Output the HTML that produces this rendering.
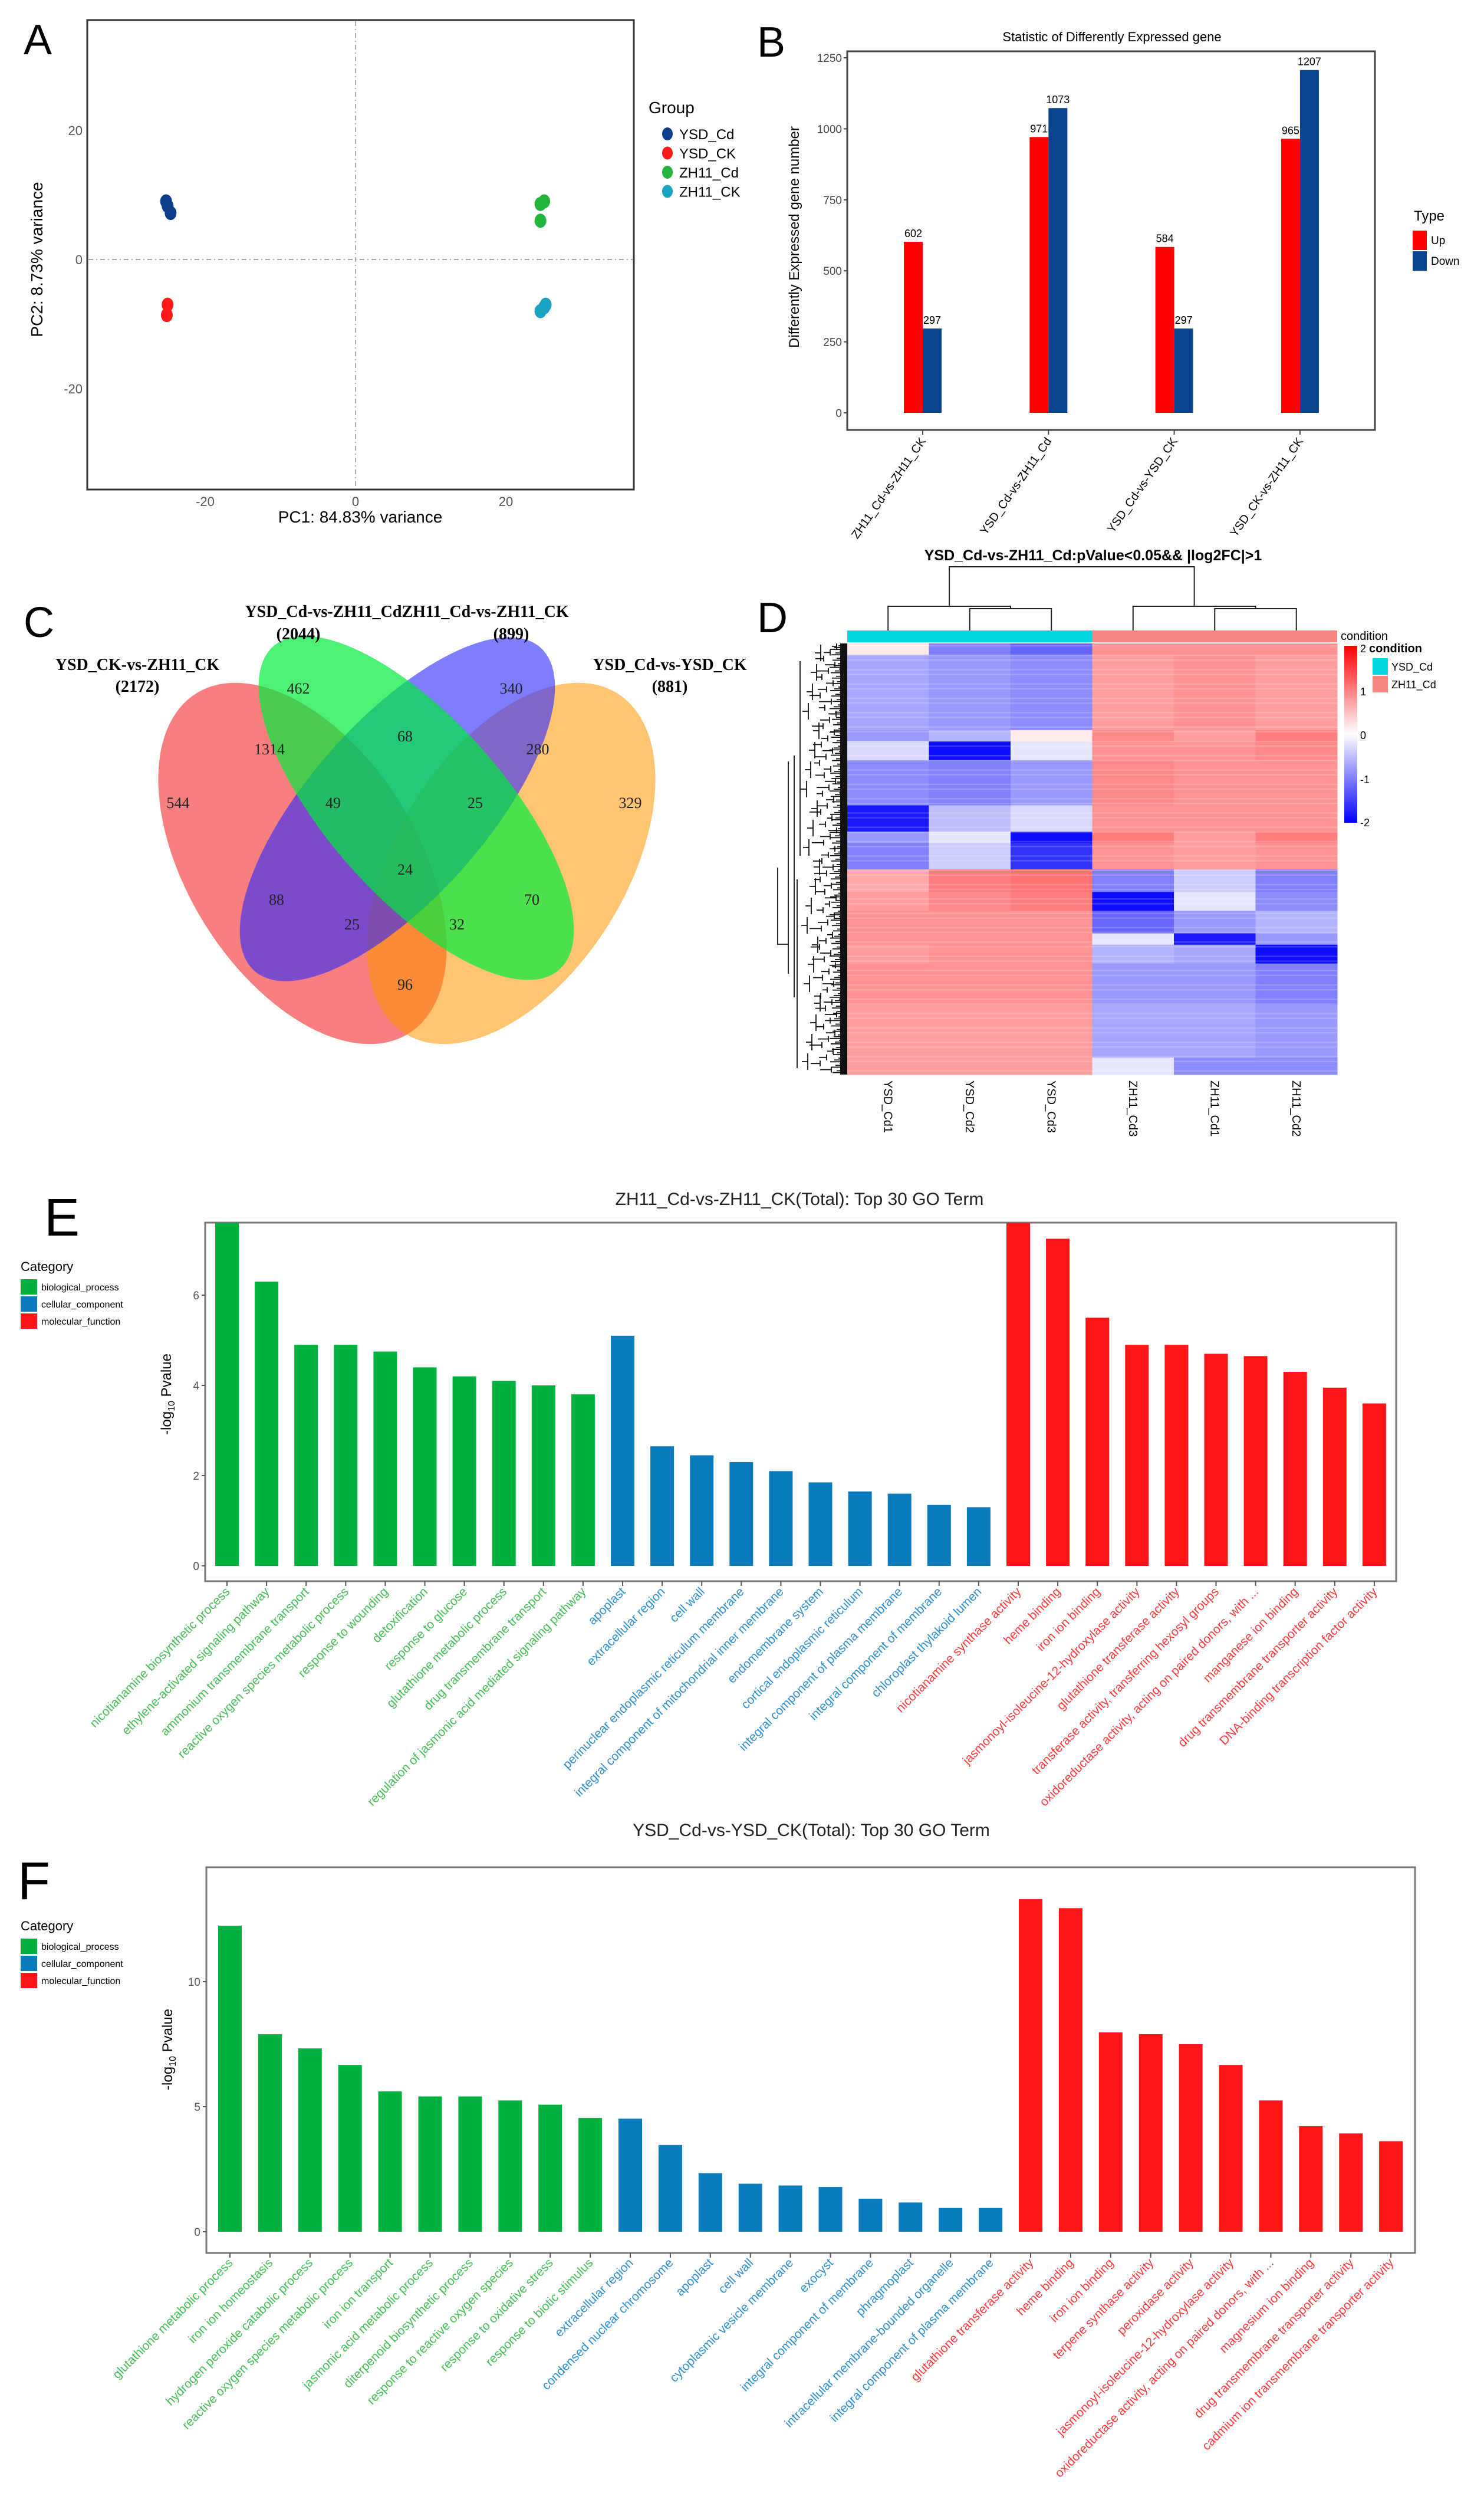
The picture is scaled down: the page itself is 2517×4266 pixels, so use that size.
<!DOCTYPE html>
<html><head><meta charset="utf-8"><style>
html,body{margin:0;padding:0;background:#fff;}
svg{display:block;font-family:"Liberation Sans",sans-serif;}
</style></head><body>
<svg id="fig" width="2517" height="4266" viewBox="0 0 2517 4266" xmlns="http://www.w3.org/2000/svg">
<rect width="2517" height="4266" fill="#fff"/>
<g id="pA"></g>
<g id="pB"></g>
<g id="pC"></g>
<g id="pD"></g>
<g id="pE"></g>
<g id="pF"></g>
</svg>
<script>
// ---------- DATA ----------
const pcaGroups = ["YSD_Cd","YSD_CK","ZH11_Cd","ZH11_CK"];
const pcaColors = ["#0a3d8c","#ff1a1a","#22b43c","#1aa3c2"];
const pcaX = [[-25.2,-25,-24.6],[-25,-25.1],[24.6,25.1,24.6],[25.1,24.6,25.3]];
const pcaY = [[9,8.3,7.2],[-7,-8.6],[8.6,9,6],[-7.4,-8,-7]];

const degCats = ["ZH11_Cd-vs-ZH11_CK","YSD_Cd-vs-ZH11_Cd","YSD_Cd-vs-YSD_CK","YSD_CK-vs-ZH11_CK"];
const degUp = [602,971,584,965];
const degDown = [297,1073,297,1207];
const degTicks = [0,250,500,750,1000,1250];

const vennCounts = ["462","340","68","1314","280","544","49","25","329","24","88","70","25","32","96"];

const hmCols = ["YSD_Cd1","YSD_Cd2","YSD_Cd3","ZH11_Cd3","ZH11_Cd1","ZH11_Cd2"];
const hmRowSpan = [30,200,30,50,120,70,30,70,60,50,60,30,50,110,140,45];
const hmVals = [
 [0.2,-1,-1.2,1,1,1],
 [-0.7,-0.8,-0.9,0.9,1,0.9],
 [-0.8,-0.6,0.2,1.1,0.9,1.2],
 [-0.3,-1.9,-0.2,1,1,1.1],
 [-0.9,-1,-0.8,1.1,1,1],
 [-1.8,-0.5,-0.3,1,1,1],
 [-0.8,-0.2,-1.9,1.2,0.9,1.2],
 [-1,-0.4,-1.6,1,0.9,1],
 [0.8,1.2,1.3,-1,-0.4,-1],
 [0.9,1.1,1.2,-1.9,-0.2,-0.9],
 [1,1,1,-1.2,-0.8,-0.6],
 [1,1,1,-0.2,-1.8,-0.8],
 [0.9,1,1,-0.6,-0.7,-1.9],
 [1,1,1,-0.8,-0.8,-1],
 [0.9,0.9,0.9,-0.7,-0.7,-0.8],
 [0.9,0.9,0.9,-0.2,-0.9,-0.9]];

const goCatNames = ["biological_process","cellular_component","molecular_function"];
const goCatColors = ["#00b140","#0a7bbd","#ff1418"];
const goLabelColors = ["#45bf55","#2f8fd0","#ff3a3a"];
const eTerms = ["nicotianamine biosynthetic process","ethylene-activated signaling pathway","ammonium transmembrane transport","reactive oxygen species metabolic process","response to wounding","detoxification","response to glucose","glutathione metabolic process","drug transmembrane transport","regulation of jasmonic acid mediated signaling pathway",
"apoplast","extracellular region","cell wall","perinuclear endoplasmic reticulum membrane","integral component of mitochondrial inner membrane","endomembrane system","cortical endoplasmic reticulum","integral component of plasma membrane","integral component of membrane","chloroplast thylakoid lumen",
"nicotianamine synthase activity","heme binding","iron ion binding","jasmonoyl-isoleucine-12-hydroxylase activity","glutathione transferase activity","transferase activity, transferring hexosyl groups","oxidoreductase activity, acting on paired donors, with ...","manganese ion binding","drug transmembrane transporter activity","DNA-binding transcription factor activity"];
const eVals = [8.2,6.3,4.9,4.9,4.75,4.4,4.2,4.1,4.0,3.8, 5.1,2.65,2.45,2.3,2.1,1.85,1.65,1.6,1.35,1.3, 8.2,7.25,5.5,4.9,4.9,4.7,4.65,4.3,3.95,3.6];
const eTicks = [0,2,4,6];
const fTerms = ["glutathione metabolic process","iron ion homeostasis","hydrogen peroxide catabolic process","reactive oxygen species metabolic process","iron ion transport","jasmonic acid metabolic process","diterpenoid biosynthetic process","response to reactive oxygen species","response to oxidative stress","response to biotic stimulus",
"extracellular region","condensed nuclear chromosome","apoplast","cell wall","cytoplasmic vesicle membrane","exocyst","integral component of membrane","phragmoplast","intracellular membrane-bounded organelle","integral component of plasma membrane",
"glutathione transferase activity","heme binding","iron ion binding","terpene synthase activity","peroxidase activity","jasmonoyl-isoleucine-12-hydroxylase activity","oxidoreductase activity, acting on paired donors, with ...","magnesium ion binding","drug transmembrane transporter activity","cadmium ion transmembrane transporter activity"];
const fVals = [12.23,7.9,7.33,6.67,5.61,5.41,5.41,5.25,5.08,4.55, 4.52,3.47,2.34,1.92,1.85,1.79,1.32,1.17,0.95,0.95, 13.3,12.94,7.97,7.9,7.5,6.67,5.25,4.22,3.93,3.62];
const fTicks = [0,5,10];

// ---------- HELPERS ----------
const NS="http://www.w3.org/2000/svg";
function mk(parent,tag,attrs,text){const e=document.createElementNS(NS,tag);for(const k in attrs)e.setAttribute(k,attrs[k]);if(text!==undefined)e.textContent=text;parent.appendChild(e);return e;}

// ---------- PANEL A ----------
(function(){
 const g=document.getElementById('pA');
 const x=v=>603+v*12.75, y=v=>440-v*10.95;
 let t=mk(g,'text',{x:40,y:92,'font-size':72},'A');
 
 
 let r=mk(g,'rect',{x:148,y:34,width:927,height:796,fill:'none',stroke:'#333','stroke-width':3});
 
 
 mk(g,'line',{x1:x(0),y1:36,x2:x(0),y2:828,stroke:'#aaa','stroke-width':2,'stroke-dasharray':'8 5 2 5'});
 mk(g,'line',{x1:150,y1:y(0),x2:1073,y2:y(0),stroke:'#aaa','stroke-width':2,'stroke-dasharray':'8 5 2 5'});
 [-20,0,20].forEach(v=>{
  const a=mk(g,'text',{x:x(v),y:858,'font-size':22,fill:'#555','text-anchor':'middle'},String(v));
  
  
  const b=mk(g,'text',{x:140,y:y(v)+8,'font-size':22,fill:'#555','text-anchor':'end'},String(v));
  
  
 });
 t=mk(g,'text',{x:611,y:886,'font-size':28,'text-anchor':'middle'},'PC1: 84.83% variance');
 
 
 t=mk(g,'text',{x:0,y:0,'font-size':28,'text-anchor':'middle',transform:'translate(72,440) rotate(-90)'},'PC2: 8.73% variance');
 
 
 pcaGroups.forEach((gn,i)=>{
  pcaX[i].forEach((vx,j)=>{
   const c=mk(g,'ellipse',{cx:x(vx),cy:y(pcaY[i][j]),rx:10,ry:12,fill:pcaColors[i]});
   
   
  });
  const d=mk(g,'ellipse',{cx:1132,cy:227+i*32.5,rx:9,ry:11,fill:pcaColors[i]});
  
  
  const lt=mk(g,'text',{x:1152,y:236+i*32.5,'font-size':24},gn);
  
  
 });
 t=mk(g,'text',{x:1100,y:192,'font-size':28},'Group');
 
 
})();

// ---------- PANEL B ----------
(function(){
 const g=document.getElementById('pB');
 const y=v=>700-v*0.4816;
 const cx=i=>1565+i*213.3;
 let t=mk(g,'text',{x:1284,y:96,'font-size':72},'B');
 
 
 t=mk(g,'text',{x:1886,y:70,'font-size':22,'text-anchor':'middle'},'Statistic of Differently Expressed gene');
 
 
 let r=mk(g,'rect',{x:1437,y:87,width:895,height:642,fill:'none',stroke:'#444','stroke-width':3});
 
 
 degTicks.forEach(v=>{
  const a=mk(g,'text',{x:1428,y:y(v)+7,'font-size':19,fill:'#444','text-anchor':'end'},String(v));
  
  
  mk(g,'line',{x1:1431,y1:y(v),x2:1437,y2:y(v),stroke:'#444','stroke-width':2});
 });
 t=mk(g,'text',{x:0,y:0,'font-size':24,'text-anchor':'middle',transform:'translate(1355,402) rotate(-90)'},'Differently Expressed gene number');
 
 
 degCats.forEach((c,i)=>{
  const bu=mk(g,'rect',{x:cx(i)-32,y:y(degUp[i]),width:32,height:y(0)-y(degUp[i]),fill:'#ff0000'});
  
  
  const bd=mk(g,'rect',{x:cx(i),y:y(degDown[i]),width:32,height:y(0)-y(degDown[i]),fill:'#0a4490'});
  
  
  const l1=mk(g,'text',{x:cx(i)-16,y:y(degUp[i])-8,'font-size':18,'text-anchor':'middle'},String(degUp[i]));
  
  
  const l2=mk(g,'text',{x:cx(i)+16,y:y(degDown[i])-8,'font-size':18,'text-anchor':'middle'},String(degDown[i]));
  
  
  mk(g,'line',{x1:cx(i),y1:729,x2:cx(i),y2:737,stroke:'#444','stroke-width':2});
  const xl=mk(g,'text',{x:0,y:0,'font-size':20,'text-anchor':'end',transform:`translate(${cx(i)+6},${748}) rotate(-55)`},c);
  
  
 });
 t=mk(g,'text',{x:2398,y:374,'font-size':24},'Type');
 
 
 [['Up','#ff0000'],['Down','#0a4490']].forEach((e,i)=>{
  const k=mk(g,'rect',{x:2396,y:391+i*35,width:24,height:33,fill:e[1]});
  
  
  const lt=mk(g,'text',{x:2427,y:414+i*35,'font-size':19},e[0]);
  
  
 });
})();

// ---------- PANEL C ----------
(function(){
 const g=document.getElementById('pC');
 let t=mk(g,'text',{x:40,y:1080,'font-size':72},'C');
 
 
 const ells=[
  ['venn-set-ysd-ck-vs-zh11-ck',513,1464,195,340,-32,'rgba(240,0,0,0.5)'],
  ['venn-set-ysd-cd-vs-ysd-ck',867,1464,195,340,32,'rgba(255,150,0,0.55)'],
  ['venn-set-zh11-cd-vs-zh11-ck',674,1372,150,366,41.5,'rgba(40,40,255,0.6)'],
  ['venn-set-ysd-cd-vs-zh11-cd',706,1370,150,366,-41.5,'rgba(0,235,60,0.7)']];
 ells.forEach(e=>{
  const el=mk(g,'ellipse',{cx:e[1],cy:e[2],rx:e[3],ry:e[4],fill:e[6],transform:`rotate(${e[5]} ${e[1]} ${e[2]})`});
  
  
 });
 const pos=[[506,1167],[867,1167],[687,1248],[457,1270],[912,1270],[302,1361],[565,1361],[806,1361],[1069,1361],[687,1474],[469,1525],[902,1525],[597,1567],[775,1567],[687,1669]];
 vennCounts.forEach((c,i)=>{
  const tx=mk(g,'text',{x:pos[i][0],y:pos[i][1]+9,'font-size':26,'font-family':'Liberation Serif, serif','text-anchor':'middle',fill:'#222'},c);
  
  
 });
 const labs=[[690,1046,'YSD_Cd-vs-ZH11_CdZH11_Cd-vs-ZH11_CK'],[506,1084,'(2044)'],[867,1084,'(899)'],[233,1136,'YSD_CK-vs-ZH11_CK'],[233,1173,'(2172)'],[1136,1136,'YSD_Cd-vs-YSD_CK'],[1136,1173,'(881)']];
 labs.forEach(l=>{
  const tx=mk(g,'text',{x:l[0],y:l[1],'font-size':28,'font-weight':'bold','font-family':'Liberation Serif, serif','text-anchor':'middle'},l[2]);
  
  
 });
})();

// ---------- PANEL D ----------
(function(){
 const g=document.getElementById('pD');
 let t=mk(g,'text',{x:1284,y:1072,'font-size':72},'D');
 
 
 t=mk(g,'text',{x:1854,y:950,'font-size':25,'font-weight':'bold','text-anchor':'middle'},'YSD_Cd-vs-ZH11_Cd:pValue<0.05&& |log2FC|>1');
 
 
 const X0=1437,W=138.5,Y0=1091,H=731;
 function col(v){v=Math.max(-2,Math.min(2,v));if(v>=0){const k=v/2;return `rgb(255,${Math.round(255*(1-k*0.85))},${Math.round(255*(1-k*0.85))})`;}const k=-v/2;return `rgb(${Math.round(255*(1-k))},${Math.round(255*(1-k))},255)`;}
 const tot=hmRowSpan.reduce((a,b)=>a+b,0);
 let yy=Y0;
 hmRowSpan.forEach((s,ri)=>{
  const h=s/tot*H;
  hmVals[ri].forEach((v,ci)=>{
   const c=mk(g,'rect',{x:X0+ci*W,y:yy,width:W+0.5,height:h+0.5,fill:col(v)});
   
   
  });
  yy+=h;
 });
 let sp='';
 for(let i=0;i<90;i++){const yv=Y0+4+i*8.1;if(i%3!==1)sp+=`M${X0},${yv}h${W*6}`;}
 let a=mk(g,'path',{d:sp,stroke:'rgba(255,255,255,0.18)','stroke-width':2.5,fill:'none'});
 
 
 a=mk(g,'rect',{x:X0,y:1069,width:W*3,height:20,fill:'#00d8e0'});
 
 
 a=mk(g,'rect',{x:X0+W*3,y:1069,width:W*3,height:20,fill:'#f8877f'});
 
 
 const cc=i=>X0+W*(i+0.5);
 const dp=`M${cc(1)},1069V1032H${cc(2)}V1069 M${cc(0)},1069V1028H${(cc(1)+cc(2))/2}V1032 M${cc(4)},1069V1032H${cc(5)}V1069 M${cc(3)},1069V1028H${(cc(4)+cc(5))/2}V1032 M${(cc(0)+cc(1.5))/2},1028V961H${(cc(3)+cc(4.5))/2}V1028`;
 a=mk(g,'path',{d:dp,fill:'none',stroke:'#222','stroke-width':2});
 
 
 let rp='';
 for(let i=0;i<240;i++){const yv=Y0+1+i*3.04;const L=8+((i*7)%23);rp+=`M${X0},${yv}h${-L}`;}
 for(let i=0;i<70;i++){const yv=Y0+5+i*10.4;const x1=X0-18-((i*11)%30);rp+=`M${x1},${yv-5}V${yv+5}M${x1},${yv}h${-(8+(i*3)%14)}`;}
 for(let i=0;i<22;i++){const yv=Y0+16+i*33;const x1=X0-45-((i*7)%25);rp+=`M${x1},${yv-14}V${yv+14}M${x1},${yv}h-10`;}
 rp+=`M${X0-80},${Y0+30}V${Y0+360}M${X0-90},${Y0+190}V${Y0+600}M${X0-85},${Y0+400}V${Y0+720}M${X0-100},${Y0+200}V${Y0+560}M${X0-118},${Y0+380}V${Y0+510}h18`;
 a=mk(g,'path',{d:rp,fill:'none',stroke:'#111','stroke-width':1.8});
 
 
 a=mk(g,'rect',{x:X0-12,y:Y0,width:12,height:H,fill:'#111'});
 
 
 hmCols.forEach((c,i)=>{
  const tx=mk(g,'text',{x:0,y:0,'font-size':20,transform:`translate(${cc(i)-7},1832) rotate(90)`},c);
  
  
 });
 const gr=mk(g,'defs',{});
 const lg=mk(gr,'linearGradient',{id:'hmg',x1:0,y1:0,x2:0,y2:1});
 [[0,'#ff0000'],[0.5,'#ffffff'],[1,'#0000ff']].forEach(s=>mk(lg,'stop',{offset:s[0],'stop-color':s[1]}));
 a=mk(g,'rect',{x:2280,y:1095,width:22,height:300,fill:'url(#hmg)'});
 
 
 [['2',1098],['1',1171],['0',1245],['-1',1320],['-2',1393]].forEach(l=>{
  const tx=mk(g,'text',{x:2307,y:l[1]+8,'font-size':18},l[0]);
  
  
 });
 t=mk(g,'text',{x:2274,y:1085,'font-size':20},'condition');
 
 
 t=mk(g,'text',{x:2322,y:1106,'font-size':20,'font-weight':'bold'},'condition');
 
 
 [['YSD_Cd','#00d8e0'],['ZH11_Cd','#f8877f']].forEach((e,i)=>{
  const k=mk(g,'rect',{x:2328,y:1116+i*30,width:26,height:28,fill:e[1]});
  
  
  const lt=mk(g,'text',{x:2360,y:1137+i*30,'font-size':18},e[0]);
  
  
 });
})();

// ---------- GO PANELS ----------
function goPanel(gid,letter,lx,ly,title,tx,ty,box,y0,unit,ymax,ticks,vals,terms,firstX,step,catY,labelY){
 const g=document.getElementById(gid);
 const y=v=>y0-Math.min(v,ymax)*unit;
 let t=mk(g,'text',{x:lx,y:ly,'font-size':90},letter);
 
 
 t=mk(g,'text',{x:tx,y:ty,'font-size':30,'text-anchor':'middle','fill':'#222'},title);
 
 
 let r=mk(g,'rect',{x:box[0],y:box[1],width:box[2]-box[0],height:box[3]-box[1],fill:'none',stroke:'#777','stroke-width':3});
 
 
 ticks.forEach(v=>{
  const a=mk(g,'text',{x:box[0]-10,y:y(v)+7,'font-size':19,fill:'#555','text-anchor':'end'},String(v));
  
  
  mk(g,'line',{x1:box[0]-6,y1:y(v),x2:box[0],y2:y(v),stroke:'#555','stroke-width':2});
 });
 t=mk(g,'text',{x:0,y:0,'font-size':24,'text-anchor':'middle',transform:`translate(${box[0]-58},${(box[1]+y0)/2}) rotate(-90)`});
 
 
 t.innerHTML='-log<tspan font-size="16" dy="6">10</tspan><tspan dy="-6"> Pvalue</tspan>';
 vals.forEach((v,i)=>{
  const ci=Math.floor(i/10);
  const cx=firstX+i*step;
  const b=mk(g,'rect',{x:cx-20,y:y(v),width:40,height:y0-y(v),fill:goCatColors[ci]});
  
  
  mk(g,'line',{x1:cx,y1:box[3],x2:cx,y2:box[3]+8,stroke:'#555','stroke-width':2});
  const l=mk(g,'text',{x:0,y:0,'font-size':21,fill:goLabelColors[ci],'text-anchor':'end',transform:`translate(${cx+6},${labelY}) rotate(-45)`},terms[i]);
  
  
 });
 t=mk(g,'text',{x:35,y:catY,'font-size':22},'Category');
 
 
 goCatNames.forEach((n,i)=>{
  const k=mk(g,'rect',{x:35,y:catY+14+i*29,width:28,height:26,fill:goCatColors[i]});
  
  
  const lt=mk(g,'text',{x:70,y:catY+33+i*29,'font-size':16},n);
  
  
 });
}
goPanel('pE','E',75,2095,'ZH11_Cd-vs-ZH11_CK(Total): Top 30 GO Term',1356,2043,[348,2073,2368,2681],2655,76.5,7.6,eTicks,eVals,eTerms,385,67.1,2155,2700);
goPanel('pF','F',30,3220,'YSD_Cd-vs-YSD_CK(Total): Top 30 GO Term',1376,3113,[350,3166,2400,3820],3784,42.4,14.5,fTicks,fVals,fTerms,390,67.9,3273,3838);
</script>
</body></html>
